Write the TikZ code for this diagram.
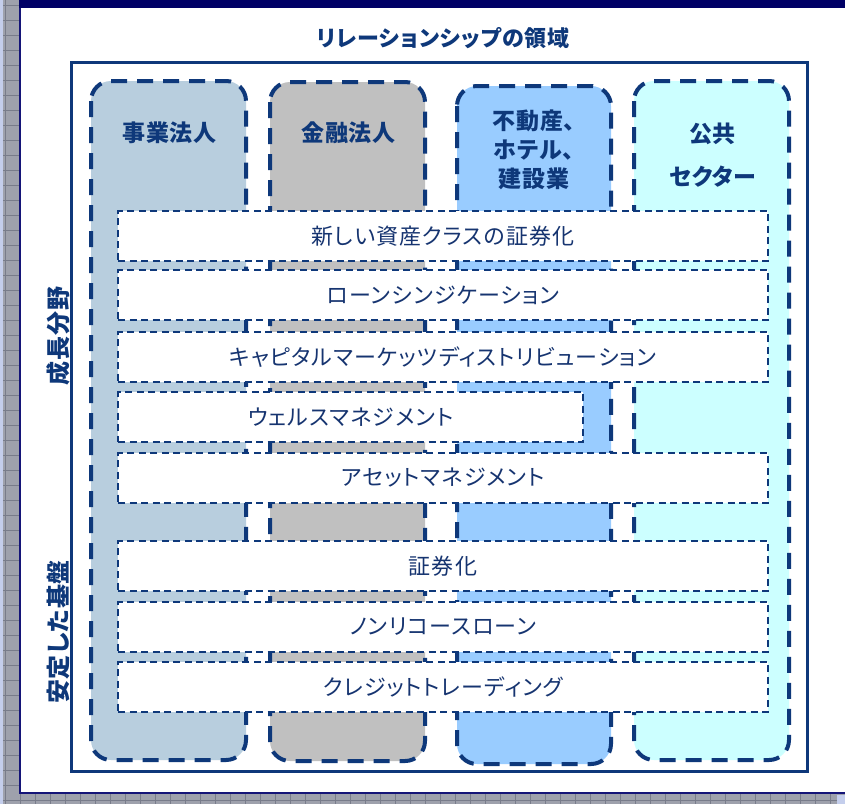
\documentclass[tikz,border=0pt]{standalone}
\usepackage{fontspec}
\newfontfamily\jprow{Noto Sans CJK JP}[RawFeature=+palt, LetterSpace=5]
\newfontfamily\jplab{Noto Sans CJK JP}[RawFeature=+palt, LetterSpace=3]
\newfontfamily\jptit{Noto Sans CJK JP}[RawFeature=+palt, LetterSpace=4]
\definecolor{navy}{RGB}{14,56,122}
\definecolor{rowtext}{RGB}{22,52,112}
\definecolor{topbar}{RGB}{0,0,102}
\definecolor{pageline}{RGB}{20,20,120}
\definecolor{gridgray}{RGB}{158,161,172}
\definecolor{gridline}{RGB}{120,124,138}
\definecolor{edgeblue}{RGB}{196,206,236}
\definecolor{colA}{RGB}{184,206,222}
\definecolor{colB}{RGB}{192,192,192}
\definecolor{colC}{RGB}{153,204,255}
\definecolor{colD}{RGB}{204,255,255}
\tikzset{
  colbox/.style={draw=navy, line width=4pt, dash pattern=on 16pt off 10pt, rounded corners=20pt},
  rowbox/.style={draw=navy, line width=1.7pt, dash pattern=on 7pt off 4.5pt, fill=white,
    inner sep=0pt, outer sep=0pt, anchor=north west, minimum height=50pt, text=rowtext,
    font=\jprow\fontsize{22}{22}\selectfont},
  collabel/.style={text=navy, font=\jplab\bfseries\fontsize{23}{29}\selectfont, align=center, inner sep=0pt},
  sidelabel/.style={text=navy, font=\jplab\bfseries\fontsize{24}{24}\selectfont, rotate=90, inner sep=0pt},
}
\begin{document}
\begin{tikzpicture}[x=1pt,y=-1pt]
\useasboundingbox (0,0) rectangle (845,804);
% background grid
\fill[gridgray] (0,0) rectangle (845,804);
\foreach \g in {5,20,...,845} \draw[gridline, line width=0.7pt] (\g,0) -- (\g,804);
\foreach \g in {5,20,...,804} \draw[gridline, line width=0.7pt] (0,\g) -- (845,\g);
\fill[edgeblue] (0,0) rectangle (3,804);
\fill[edgeblue] (837,795) rectangle (845,804);
% page
\fill[white] (20,0) rectangle (845,793);
\draw[pageline, line width=1.5pt] (20,0) -- (20,793) -- (845,793);
\fill[topbar] (19,0) rectangle (845,8.3);
% title
\node[text=navy, font=\jptit\bfseries\fontsize{22}{22}\selectfont, inner sep=0pt] (title) at (443,38) {リレーションシップの領域};
% frame
\draw[navy, line width=3pt] (71.5,62.5) rectangle (807.5,771);
% columns
\draw[colbox, fill=colA] (91,81) rectangle (246,760);
\draw[colbox, fill=colB] (270,82) rectangle (425,761);
\draw[colbox, fill=colC] (457,86) rectangle (611,764);
\draw[colbox, fill=colD] (634,81) rectangle (789,760);
% column labels
\node[collabel] (l1) at (169.5,133) {事業法人};
\node[collabel] (l2) at (348.5,133) {金融法人};
\node[collabel] (l3) at (534,150) {不動産、\\ホテル、\\建設業};
\node[collabel] (l4) at (712.5,155) {公共\\[14pt]セクター};
% rows
\node[rowbox, minimum width=650pt] (r1) at (118,211) {新しい資産クラスの証券化};
\node[rowbox, minimum width=650pt] (r2) at (118,270) {ローンシンジケーション};
\node[rowbox, minimum width=650pt] (r3) at (118,332) {キャピタルマーケッツディストリビューション};
\node[rowbox, minimum width=465pt] (r4) at (118,392) {ウェルスマネジメント};
\node[rowbox, minimum width=650pt] (r5) at (118,453) {アセットマネジメント};
\node[rowbox, minimum width=650pt] (r6) at (118,541) {証券化};
\node[rowbox, minimum width=650pt] (r7) at (118,602) {ノンリコースローン};
\node[rowbox, minimum width=650pt] (r8) at (118,662) {クレジットトレーディング};
% side labels
\node[sidelabel] (s1) at (58,336) {成長分野};
\node[sidelabel] (s2) at (58,632) {安定した基盤};
\end{tikzpicture}
\end{document}
